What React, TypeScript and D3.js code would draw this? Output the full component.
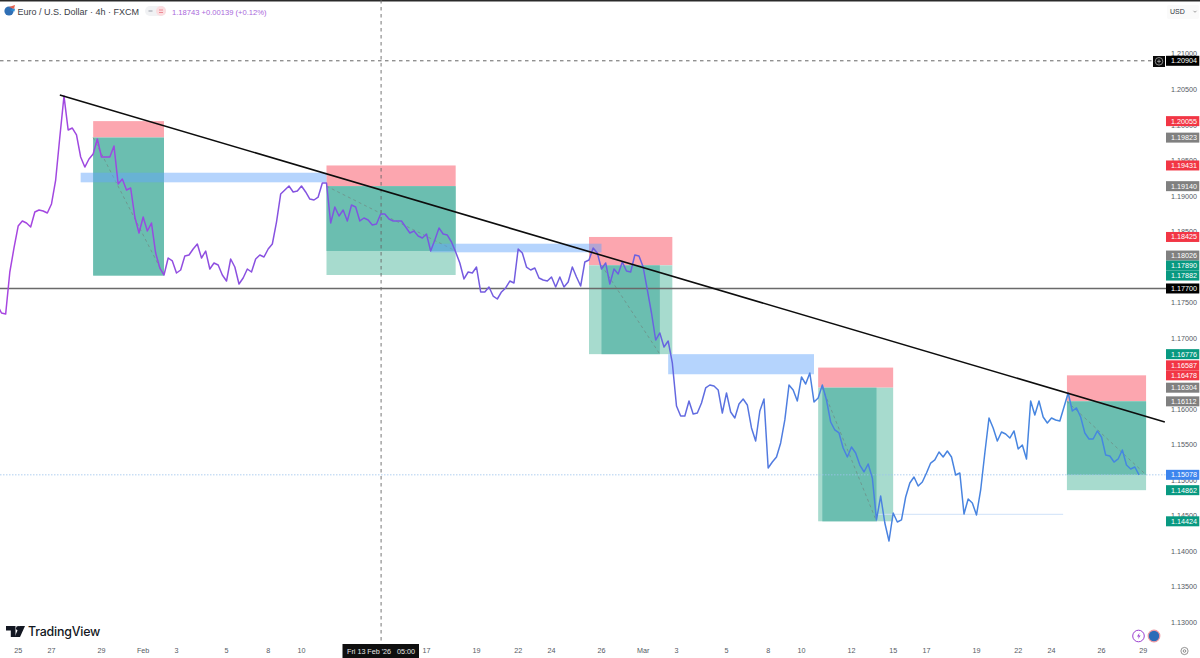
import * as d3 from "d3";
import React from "react";

const WIDTH = 1200
const HEIGHT = 658
const FONT = "'Liberation Sans', Arial, sans-serif"

// 4h closes, one per bar
const closes = [
  1.17468, 1.17355, 1.17341, 1.17932, 1.18270, 1.18579, 1.18650, 1.18621, 1.18565, 1.18776,
  1.18804, 1.18790, 1.18762, 1.18889, 1.19226, 1.19831, 1.20408, 1.19930, 1.19958, 1.19860,
  1.19550, 1.19409, 1.19522, 1.19592, 1.19803, 1.19550, 1.19550, 1.19550, 1.19705, 1.19170,
  1.19240, 1.19086, 1.19114, 1.18706, 1.18481, 1.18706, 1.18509, 1.18621, 1.18199, 1.17988,
  1.17890, 1.18129, 1.18087, 1.17918, 1.17960, 1.18157, 1.18171, 1.18256, 1.18326, 1.18129,
  1.18227, 1.17974, 1.18059, 1.18030, 1.17890, 1.17805, 1.18115, 1.18002, 1.17763, 1.17848,
  1.17974, 1.17932, 1.18115, 1.18171, 1.18143, 1.18256, 1.18326, 1.18635, 1.19029, 1.19086,
  1.19142, 1.19058, 1.19072, 1.19142, 1.19058, 1.18959, 1.18945, 1.18987, 1.19184, 1.19184,
  1.18621, 1.18847, 1.18720, 1.18804, 1.18650, 1.18875, 1.18847, 1.18650, 1.18692, 1.18664,
  1.18593, 1.18607, 1.18748, 1.18748, 1.18678, 1.18650, 1.18650, 1.18650, 1.18565, 1.18481,
  1.18509, 1.18438, 1.18410, 1.18466, 1.18227, 1.18382, 1.18551, 1.18466, 1.18452, 1.18354,
  1.18213, 1.18059, 1.17834, 1.17932, 1.17918, 1.18002, 1.17651, 1.17651, 1.17721, 1.17594,
  1.17552, 1.17651, 1.17707, 1.17805, 1.17777, 1.18256, 1.18199, 1.18002, 1.17960, 1.17988,
  1.17848, 1.17819, 1.17805, 1.17862, 1.17721, 1.17862, 1.17721, 1.17791, 1.18002, 1.17862,
  1.17735, 1.18073, 1.18101, 1.18270, 1.18199, 1.17974, 1.18059, 1.17763, 1.17974, 1.17904,
  1.18073, 1.17946, 1.17932, 1.18171, 1.18157, 1.18002, 1.17679, 1.17355, 1.16975, 1.17074,
  1.16876, 1.16961, 1.16652, 1.16047, 1.15906, 1.15906, 1.16117, 1.15934, 1.15948, 1.16089,
  1.16300, 1.16342, 1.16328, 1.16272, 1.15948, 1.16230, 1.15962, 1.15878, 1.16075, 1.16145,
  1.16061, 1.15737, 1.15554, 1.15976, 1.16145, 1.15174, 1.15258, 1.15329, 1.15526, 1.15850,
  1.16342, 1.16272, 1.16117, 1.16455, 1.16356, 1.16511, 1.16103, 1.16159, 1.16342, 1.16131,
  1.15821, 1.15709, 1.15667, 1.15456, 1.15329, 1.15470, 1.15385, 1.15216, 1.15118, 1.15230,
  1.15034, 1.14443, 1.14780, 1.14400, 1.14147, 1.14541, 1.14414, 1.14443, 1.14766, 1.14963,
  1.15047, 1.14921, 1.14977, 1.15104, 1.15244, 1.15287, 1.15399, 1.15329, 1.15413, 1.15329,
  1.15076, 1.15104, 1.14527, 1.14738, 1.14682, 1.14513, 1.14865, 1.15385, 1.15878, 1.15737,
  1.15554, 1.15681, 1.15653, 1.15596, 1.15695, 1.15442, 1.15498, 1.15301, 1.16117, 1.15920,
  1.16117, 1.15892, 1.15807, 1.15878, 1.15850, 1.15836, 1.16033, 1.16230, 1.15976, 1.16019,
  1.15892, 1.15667, 1.15582, 1.15582, 1.15695, 1.15610, 1.15357, 1.15343, 1.15258, 1.15301,
  1.15427, 1.15216, 1.15160, 1.15188, 1.15078,
]

// short setups, in bars and prices
const boxFrom = [23, 79, 142, 197, 256.7]
const boxTo = [40, 110, 162, 215, 275.7]
const boxStop = [1.20055, 1.19431, 1.18425, 1.16587, 1.16478]
const boxEntry = [1.19823, 1.19140, 1.18026, 1.16304, 1.16112]
const boxTarget = [1.17882, 1.17890, 1.16776, 1.14424, 1.14862]
const runFrom = [23, 79, 145, 198, 256.7]
const runTo = [40, 110, 159, 211, 275.7]
const runPrice = [1.17882, 1.18228, 1.16776, 1.14424, 1.15078]

const zoneFrom = [20, 104, 161]
const zoneTo = [79, 145, 196]
const zoneTop = [1.19329, 1.18330, 1.16776]
const zoneBottom = [1.19194, 1.18209, 1.16493]

const trendBars = [15, 280.2]
const trendPrices = [1.20423, 1.15822]

const priceTicks = [1.21, 1.205, 1.2, 1.195, 1.19, 1.185, 1.18, 1.175, 1.17, 1.165, 1.16, 1.155, 1.15, 1.145, 1.14, 1.135, 1.13]

const timeLabels = ["25", "27", "29", "Feb", "3", "5", "8", "10", "17", "19", "22", "24", "26", "Mar", "3", "5", "8", "10", "12", "15", "17", "19", "22", "24", "26", "29"]
const timeBars = [5, 13, 25, 35, 43, 55, 65, 73, 103, 115, 125, 133, 145, 155, 163, 175, 185, 193, 205, 215, 223, 235, 245, 253, 265, 275]

const RED = "#f23645"
const GREY = "#808080"
const TEAL = "#089981"
const priceTags: [number, string][] = [
  [1.20904, "#000000"], [1.20055, RED], [1.19823, GREY], [1.19431, RED], [1.19140, GREY],
  [1.18425, RED], [1.18026, GREY], [1.17890, TEAL], [1.17882, TEAL], [1.17700, "#000000"],
  [1.16776, TEAL], [1.16587, RED], [1.16478, RED], [1.16304, GREY], [1.16112, GREY],
  [1.15078, "#3d85ee"], [1.14862, TEAL], [1.14424, TEAL],
]

const x = d3.scaleLinear().domain([0, 274]).range([-2.67, 1139])
const y = d3.scaleLinear().domain([1.205, 1.13]).range([89.5, 622.5])

const TAG_H = 10

// tags that would overlap get pushed upward, working from the bottom
function stackTags() {
  const out = priceTags.map(([price, color]) => ({ price, color, top: y(price) }))
  for (let i = out.length - 2; i >= 0; i--) {
    if (out[i + 1].top - out[i].top < TAG_H) out[i].top = out[i + 1].top - TAG_H
  }
  return out
}

function Rect({ x0, x1, p0, p1, fill }: { x0: number, x1: number, p0: number, p1: number, fill: string }) {
  return <rect x={x(x0)} width={x(x1) - x(x0)} y={y(p0)} height={y(p1) - y(p0)} fill={fill} />
}

function Positions() {
  return (
    <g>
      {boxFrom.map((from, i) => (
        <g key={i}>
          <Rect x0={from} x1={boxTo[i]} p0={boxStop[i]} p1={boxEntry[i]} fill="#fca6af" />
          <Rect x0={from} x1={boxTo[i]} p0={boxEntry[i]} p1={boxTarget[i]} fill="#a7dbce" />
          <Rect x0={runFrom[i]} x1={runTo[i]} p0={boxEntry[i]} p1={runPrice[i]} fill="#6bbeb0" />
          <line x1={x(runFrom[i])} y1={y(boxEntry[i])} x2={x(runTo[i])} y2={y(runPrice[i])}
            stroke="#6f8f88" strokeWidth={0.8} strokeDasharray="3 3" />
        </g>
      ))}
    </g>
  )
}

function TvLogo() {
  return (
    <g>
      <path d="M6 626h9.5v11h-4.7v-6.6H6z" fill="#131722" />
      <circle cx={18.3} cy={628.3} r={2.3} fill="#131722" />
      <path d="M19.5 626H25l-5 11h-5.4z" fill="#131722" />
      <text x={28} y={636} fontFamily="Inter, 'Noto Sans', sans-serif" fontSize={12.4} fontWeight={500} fill="#131722" letterSpacing={-0.2}>TradingView</text>
    </g>
  )
}

export function App() {
  const line = d3.line<number>().x((d, i) => x(i)).y(d => y(d))
  const tags = stackTags()

  return (
    <svg width={WIDTH} height={HEIGHT} style={{ position: "fixed", left: 0, top: 0, background: "#fff" }} fontFamily={FONT}>
      <defs>
        <linearGradient id="lineFade" gradientUnits="userSpaceOnUse" x1={0} y1={0} x2={1140} y2={0}>
          <stop offset="0" stopColor="#a845e0" />
          <stop offset="0.3" stopColor="#7f55e0" />
          <stop offset="0.57" stopColor="#6a62e0" />
          <stop offset="0.7" stopColor="#4c80e0" />
          <stop offset="1" stopColor="#4488e0" />
        </linearGradient>
      </defs>

      <rect x={0} y={0} width={WIDTH} height={1.5} fill="#2a2a2a" />

      <Positions />
      {zoneFrom.map((from, i) => (
        <Rect key={i} x0={from} x1={zoneTo[i]} p0={zoneTop[i]} p1={zoneBottom[i]} fill="rgba(100,165,250,0.48)" />
      ))}

      {/* crosshair */}
      <line x1={0} x2={1153} y1={y(1.20904)} y2={y(1.20904)} stroke="#555" strokeWidth={0.9} strokeDasharray="3.5 3.5" />
      <line x1={x(92.1)} x2={x(92.1)} y1={0} y2={643} stroke="#666" strokeWidth={0.9} strokeDasharray="3.5 3.5" />

      {/* last price and the low that was swept */}
      <line x1={0} x2={1166} y1={y(1.15078)} y2={y(1.15078)} stroke="#9cc3ee" strokeWidth={0.8} strokeDasharray="1.5 1.5" />
      <line x1={x(211)} x2={x(255.8)} y1={y(1.14424) - 7} y2={y(1.14424) - 7} stroke="#cfe2f8" strokeWidth={1} />

      <line x1={0} x2={1166} y1={y(1.177)} y2={y(1.177)} stroke="#6a6a6a" strokeWidth={1.4} />

      <path d={line(closes) as string} fill="none" stroke="url(#lineFade)" strokeWidth={1.5} strokeLinejoin="round" />

      <line x1={x(trendBars[0])} y1={y(trendPrices[0])} x2={x(trendBars[1])} y2={y(trendPrices[1])} stroke="#0d0d0d" strokeWidth={1.6} />

      {/* header */}
      <circle cx={9} cy={11} r={4.6} fill="#2f6fb5" />
      <path d="M9 7 L15 5 L14 9 Z" fill="#e2604f" />
      <path d="M10 10 L15 8.5 L14.5 11.5 Z" fill="#2a8fd8" />
      <text x={17.5} y={14.5} fontSize={9} fill="#3a3d46">Euro / U.S. Dollar · 4h · FXCM</text>
      <rect x={145} y={6} width={21} height={10} rx={5} fill="#f1f2f4" />
      <rect x={156} y={6} width={10} height={10} rx={5} fill="#fbdde0" />
      <rect x={148.5} y={10.5} width={4} height={1} fill="#9a9ea8" />
      <rect x={159} y={9.5} width={4} height={1} fill="#ee8a95" />
      <rect x={159} y={12} width={4} height={1} fill="#ee8a95" />
      <text x={172} y={14.5} fontSize={7.6} fill="#a968db">1.18743 +0.00139 (+0.12%)</text>

      {/* price axis */}
      {priceTicks.map(p => (
        <text key={p} x={1171} y={y(p)} dy="0.35em" fontSize={7.2} fill="#555a63">{p.toFixed(5)}</text>
      ))}
      <rect x={1167} y={5} width={32} height={14} rx={2} fill="#fafafa" />
      <text x={1170} y={14} fontSize={7} fill="#30343c">USD</text>
      <path d="M1193.5 10.8l1.5 1.5 1.5-1.5" fill="none" stroke="#777" strokeWidth={0.7} />

      {tags.map(t => (
        <g key={t.price}>
          <rect x={1166} y={t.top - TAG_H / 2} width={33.3} height={TAG_H} fill={t.color} />
          <text x={1171} y={t.top} dy="0.35em" fontSize={7.2} fill="#fff">{t.price.toFixed(5)}</text>
        </g>
      ))}
      <rect x={1153} y={56} width={12} height={11} fill="#0a0a0a" />
      <circle cx={1159} cy={61.3} r={3.8} fill="none" stroke="#ddd" strokeWidth={0.6} />
      <path d="M1157 61.3h4M1159 59.3v4" stroke="#ddd" strokeWidth={0.6} />

      {/* time axis */}
      {timeLabels.map((label, i) => (
        <text key={i} x={x(timeBars[i])} y={650} dy="0.35em" textAnchor="middle" fontSize={7.2} fill="#555a63">{label}</text>
      ))}
      <rect x={342.5} y={644} width={76.5} height={14} fill="#0f0f0f" />
      <text x={347} y={651} dy="0.35em" fontSize={7.2} fill="#e8e8e8" xmlSpace="preserve">Fri 13 Feb '26   05:00</text>

      <TvLogo />

      <circle cx={1138.5} cy={636} r={5.8} fill="#fff" stroke="#9c3fd0" strokeWidth={1} />
      <path d="M1139.6 632.8l-2.6 3.6h1.8l-.8 2.8 2.6-3.7h-1.8z" fill="#9c3fd0" />
      <circle cx={1154} cy={636} r={5.8} fill="#2b6cb8" stroke="#ee98a2" strokeWidth={1.2} />
      <circle cx={1184.5} cy={651} r={3.6} fill="none" stroke="#666" strokeWidth={0.7} />
      <circle cx={1184.5} cy={651} r={1.3} fill="none" stroke="#666" strokeWidth={0.7} />
    </svg>
  );
}

export default App;
